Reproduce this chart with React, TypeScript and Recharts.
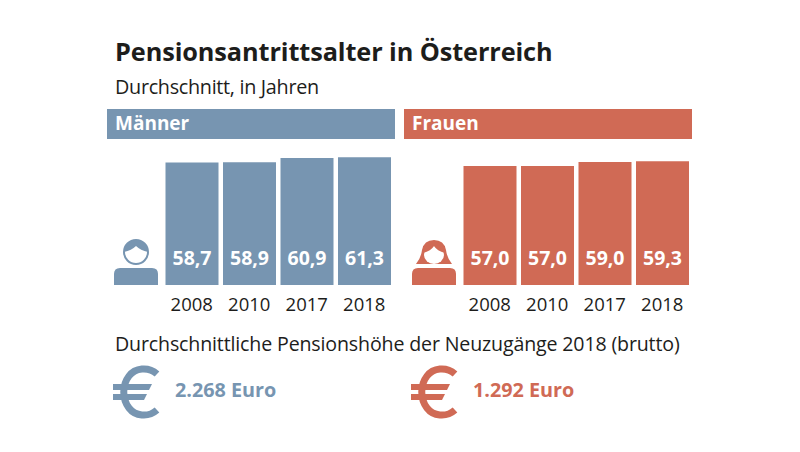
import React from "react";
import { BarChart, Bar, XAxis, YAxis, LabelList } from "recharts";

const years = ["2008", "2010", "2017", "2018"];
const maennerAlter = [58.7, 58.9, 60.9, 61.3];
const frauenAlter = [57.0, 57.0, 59.0, 59.3];

const BLUE = "#7795b1";
const RED = "#d06a55";
const FONT = "'Open Sans', sans-serif";

const fmt = (v: any) => Number(v).toFixed(1).replace(".", ",");

const Text = ({ x, y, size, weight = 400, color = "#1d1d1b", spacing = 0, children }: any) => (
  <div
    style={{
      position: "absolute",
      left: x,
      top: y,
      fontSize: size,
      fontWeight: weight,
      color,
      letterSpacing: spacing,
      lineHeight: 1,
      whiteSpace: "nowrap",
    }}
  >
    {children}
  </div>
);

const Panel = ({ left, values, color }: { left: number; values: number[]; color: string }) => {
  const data = years.map((year, i) => ({ year, value: values[i] }));
  return (
    <div style={{ position: "absolute", left, top: 139 }}>
      <BarChart width={230} height={180} data={data} margin={{ top: 0, right: 0, bottom: 0, left: 0 }} barCategoryGap={2.5}>
        <XAxis
          dataKey="year"
          height={34}
          axisLine={false}
          tickLine={false}
          tickMargin={7}
          interval={0}
          tick={{ fontSize: 18.5, fill: "#1d1d1b", fontFamily: FONT, letterSpacing: 0 }}
        />
        <YAxis hide domain={[0, 70]} />
        <Bar dataKey="value" fill={color} isAnimationActive={false}>
          <LabelList
            dataKey="value"
            position="insideBottom"
            offset={20}
            formatter={fmt}
            style={{ fill: "#fff", fontSize: 19.5, fontWeight: 700, fontFamily: FONT }}
          />
        </Bar>
      </BarChart>
    </div>
  );
};

const ManIcon = () => (
  <svg style={{ position: "absolute", left: 110, top: 236 }} width={52} height={52}>
    <circle cx={26} cy={16} r={12} fill="#fff" stroke={BLUE} strokeWidth={2} />
    <path d="M14 16 A12 12 0 0 1 38 16 C33 15 29 13 26 10 C23 13 19 15 14 16 Z" fill={BLUE} />
    <path d="M4 49 V38 Q4 32 10 32 H42 Q48 32 48 38 V49 Z" fill={BLUE} />
  </svg>
);

const WomanIcon = () => (
  <svg style={{ position: "absolute", left: 408, top: 236 }} width={52} height={52}>
    <path d="M8 28 Q13 22 14 14 Q16 4 26 4 Q36 4 38 14 Q39 22 44 28 Z" fill={RED} />
    <ellipse cx={26} cy={19} rx={10} ry={9} fill="#fff" />
    <path d="M15 17 Q23 15 26 10 Q29 15 37 17 L37 10 L15 10 Z" fill={RED} />
    <path d="M4 49 V38 Q4 32 10 32 H42 Q48 32 48 38 V49 Z" fill={RED} />
  </svg>
);

const EuroIcon = ({ left, color }: { left: number; color: string }) => (
  <svg style={{ position: "absolute", left, top: 364 }} width={54} height={56}>
    <path d="M47 10 C38 2 25 4 19 12 C12 21 12 35 19 44 C25 52 38 54 47 46" fill="none" stroke={color} strokeWidth={7} />
    <path d="M3 20 H42 L39 26 H3 Z" fill={color} />
    <path d="M3 30 H37 L34 36 H3 Z" fill={color} />
  </svg>
);

export default function App() {
  return (
    <div style={{ position: "absolute", left: 0, top: 0, width: 800, height: 452, background: "#fff", fontFamily: FONT, overflow: "hidden" }}>
      <Text x={115} y={39} size={25.3} weight={700} spacing={-0.1}>Pensionsantrittsalter in Österreich</Text>
      <Text x={115} y={77} size={19.8} spacing={-0.3}>Durchschnitt, in Jahren</Text>

      <div style={{ position: "absolute", left: 107, top: 109, width: 288, height: 30, background: BLUE }} />
      <div style={{ position: "absolute", left: 404, top: 109, width: 288, height: 30, background: RED }} />
      <Text x={115} y={114} size={19} weight={700} color="#fff">Männer</Text>
      <Text x={412} y={114} size={19} weight={700} color="#fff">Frauen</Text>

      <ManIcon />
      <WomanIcon />
      <Panel left={163} values={maennerAlter} color={BLUE} />
      <Panel left={461} values={frauenAlter} color={RED} />

      <Text x={115} y={334} size={19.6} spacing={-0.15}>Durchschnittliche Pensionshöhe der Neuzugänge 2018 (brutto)</Text>

      <EuroIcon left={110} color={BLUE} />
      <Text x={175} y={380} size={19.8} weight={700} color={BLUE}>2.268 Euro</Text>
      <EuroIcon left={408} color={RED} />
      <Text x={473} y={380} size={19.8} weight={700} color={RED}>1.292 Euro</Text>
    </div>
  );
}
